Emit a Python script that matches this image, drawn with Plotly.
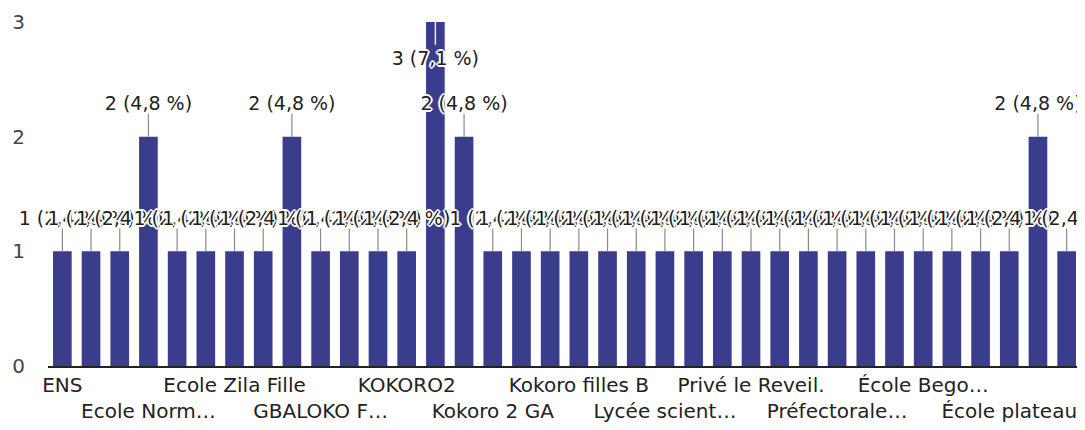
import plotly.graph_objects as go

# Data
values = [1, 1, 1, 2, 1, 1, 1, 1, 2, 1, 1, 1, 1, 3, 2, 1, 1, 1,
          1, 1, 1, 1, 1, 1, 1, 1, 1, 1, 1, 1, 1, 1, 1, 1, 2, 1]
total = 42
tick_positions = [0, 3, 6, 9, 12, 15, 18, 21, 24, 27, 30, 33]
tick_labels = ["ENS", "Ecole Norm…", "Ecole Zila Fille", "GBALOKO F…",
               "KOKORO2", "Kokoro 2 GA", "Kokoro filles B", "Lycée scient…",
               "Privé le Reveil.", "Préfectorale…", "École Bego…", "École plateau"]
y_ticks = [0, 1, 2, 3]

BAR = "#3a3d8c"
FONT = "DejaVu Sans"
YMAX = 3

x = list(range(len(values)))

def fmt(v):
    pct = f"{100 * v / total:.1f}".replace(".", ",")
    return f"{v} ({pct} %)"

fig = go.Figure()
fig.add_trace(go.Bar(x=x, y=values, marker=dict(color=BAR, line=dict(width=0)),
                     hoverinfo="skip", showlegend=False))

# leader lines and value labels
lx, ly, wx, wy = [], [], [], []
tx, ty, tt = [], [], []
for i, v in enumerate(values):
    if v + 0.3 > YMAX:
        wx += [i, i, None]; wy += [v, v - 0.2, None]
        tx.append(i); ty.append(v - 0.33); tt.append(fmt(v))
    else:
        lx += [i, i, None]; ly += [v, v + 0.2, None]
        tx.append(i); ty.append(v + 0.27); tt.append(fmt(v))

fig.add_trace(go.Scatter(x=lx, y=ly, mode="lines", line=dict(color="#8a8a8a", width=1.2),
                         hoverinfo="skip", showlegend=False, cliponaxis=False))
fig.add_trace(go.Scatter(x=wx, y=wy, mode="lines", line=dict(color="#e8e8ee", width=1.5),
                         hoverinfo="skip", showlegend=False, cliponaxis=False))
halo = ("-1px -1px 0 white, 1px -1px 0 white, -1px 1px 0 white, 1px 1px 0 white, "
        "0 -2px 0 white, 0 2px 0 white, -2px 0 0 white, 2px 0 0 white")
fig.add_trace(go.Scatter(x=tx, y=ty, mode="text", text=tt, textposition="middle center",
                         textfont=dict(family=FONT, size=19, color="#222222", shadow=halo),
                         hoverinfo="skip", showlegend=False, cliponaxis=False))

ticktext = [lab if k % 2 == 0 else "<br>" + lab for k, lab in enumerate(tick_labels)]

fig.update_layout(
    width=1077, height=422,
    margin=dict(l=40, r=4, t=14, b=64, autoexpand=False),
    paper_bgcolor="white", plot_bgcolor="white",
    bargap=0.35,
    font=dict(family=FONT, size=20, color="#333333"),
    xaxis=dict(range=[-0.5, len(values) - 0.5], tickmode="array",
               tickvals=tick_positions, ticktext=ticktext, tickangle=0,
               automargin=False,
               showgrid=False, zeroline=False, showline=True,
               linecolor="#222222", linewidth=2, ticks="",
               tickfont=dict(family=FONT, size=20, color="#222222")),
    yaxis=dict(range=[0, YMAX], tickmode="array", tickvals=y_ticks,
               automargin=False,
               showgrid=False, zeroline=False, showline=False, ticks="",
               ticklabelstandoff=22,
               tickfont=dict(family=FONT, size=20, color="#444444")),
)

fig.write_html("out.html")
